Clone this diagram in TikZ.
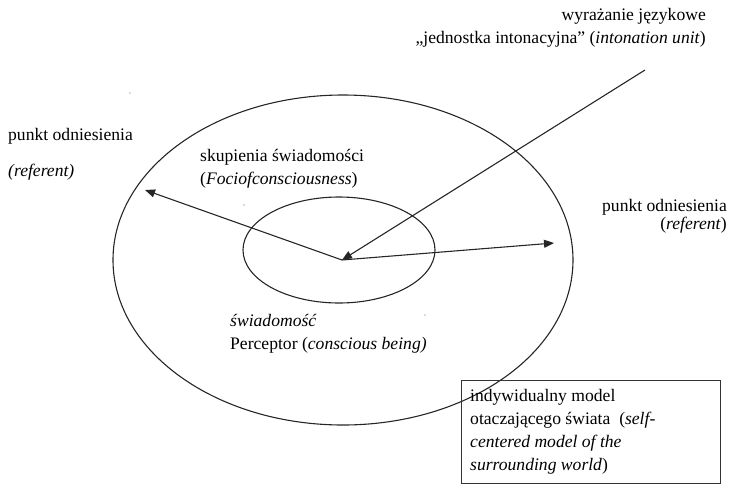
\documentclass[tikz,border=0pt]{standalone}
\usepackage{fontspec}
\setmainfont{Liberation Serif}
\newfontfamily\tms{Liberation Serif}
\usetikzlibrary{arrows.meta}
\begin{document}
\begin{tikzpicture}[x=1pt,y=-1pt,
  lbl/.style={inner sep=0pt,font=\tms\fontsize{17.6}{23}\selectfont},
  ln/.style={line width=1.1pt,black!85},
  arr/.style={ln,-{Triangle[length=10pt,width=8pt]}},
  dot/.style={fill=black!60,circle,inner sep=0pt,minimum size=1.3pt}]
\useasboundingbox (0,0) rectangle (732,496);
% ellipses
\draw[ln] (343,260) ellipse [x radius=230,y radius=165];
\draw[ln] (339,250) ellipse [x radius=96,y radius=53];
\coordinate (c) at (342,260);
\coordinate (top) at (645,70);
\coordinate (L) at (145,190);
\coordinate (R) at (554,243);
\draw[arr] (top) -- (c);
\draw[arr] (c) -- (L);
\draw[arr] (c) -- (R);
% texts
\node[lbl,anchor=base east] (t1) at (706,20) {wyrażanie językowe};
\node[lbl,anchor=base east] (t2) at (706,43) {„jednostka intonacyjna” (\textit{intonation unit})};
\node[lbl,anchor=base west] (pl1) at (8,140) {punkt odniesienia};
\node[lbl,anchor=base west] (pl2) at (8,176) {\textit{(referent)}};
\node[lbl,anchor=base west] (s1) at (200,161) {skupienia świadomości};
\node[lbl,anchor=base west] (s2) at (200,184) {(\textit{Fociofconsciousness})};
\node[lbl,anchor=base east] (pr1) at (727,211) {punkt odniesienia};
\node[lbl,anchor=base east] (pr2) at (727,229) {(\textit{referent})};
\node[lbl,anchor=base west] (w1) at (230,326) {\textit{świadomość}};
\node[lbl,anchor=base west] (w2) at (230,349) {Perceptor (\textit{conscious being)}};
% box
\draw[line width=0.9pt,black!80] (461,380) rectangle (720,483);
\node[lbl,anchor=base west] (b1) at (470,401) {indywidualny model};
\node[lbl,anchor=base west] (b2) at (470,424) {otaczającego świata\ \ (\textit{self-}};
\node[lbl,anchor=base west] (b3) at (470,447) {\textit{centered model of the}};
\node[lbl,anchor=base west] (b4) at (470,470) {\textit{surrounding world})};
% specks
\node[dot] (d1) at (130,93) {};
\node[dot] (d2) at (244,205) {};
\node[dot] (d3) at (425,315) {};
\end{tikzpicture}
\end{document}
